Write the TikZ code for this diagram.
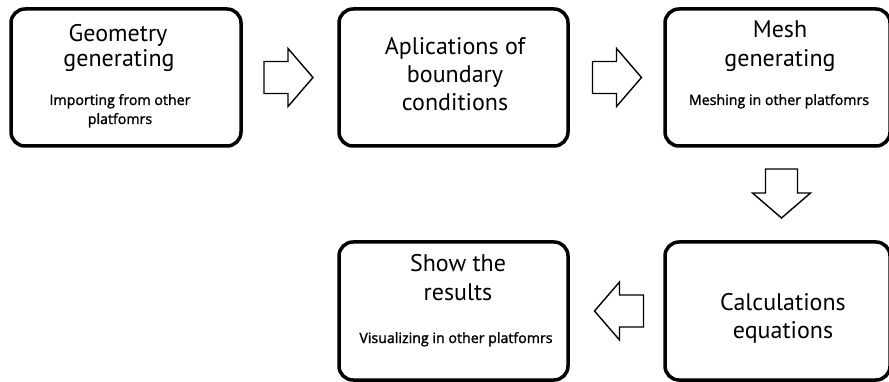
\documentclass[tikz,border=0pt]{standalone}
\usepackage{fontspec}
\setmainfont{PT Sans}
\newfontfamily\notefont[FakeBold=1.5]{Open Sans}
\usetikzlibrary{calc}

\tikzset{
  stagebox/.style={draw=black, line width=3.5pt, rounded corners=14pt, fill=white},
  bigtext/.style={anchor=base, inner sep=0pt, font=\fontsize{24}{28}\selectfont},
  smalltext/.style={anchor=base, inner sep=0pt, font=\notefont\fontsize{14.2}{16}\selectfont},
  blockarrow/.pic={
    \draw[line width=1.4pt, line join=miter, fill=white]
      (-24,-16) -- (0,-16) -- (0,-29) -- (25,0) -- (0,29) -- (0,16) -- (-24,16) -- cycle;
  }
}

\begin{document}
\begin{tikzpicture}[x=1pt, y=-1pt]
  \useasboundingbox (0,0) rectangle (889,382);

  % stage boxes (corner to corner, stroke centres)
  \path[stagebox] (11,9) rectangle (241,146);
  \path[stagebox] (339,9) rectangle (568,146);
  \path[stagebox] (665,9) rectangle (890,146);
  \path[stagebox] (665,242) rectangle (890,380);
  \path[stagebox] (339,242) rectangle (568,380);

  % anchor nodes covering each box
  \node[inner sep=0pt, minimum width=234pt, minimum height=141pt] (geom) at (126,77.5) {};
  \node[inner sep=0pt, minimum width=233pt, minimum height=141pt] (bound) at (453.5,77.5) {};
  \node[inner sep=0pt, minimum width=229pt, minimum height=141pt] (mesh) at (777.5,77.5) {};
  \node[inner sep=0pt, minimum width=229pt, minimum height=142pt] (calc) at (777.5,311) {};
  \node[inner sep=0pt, minimum width=233pt, minimum height=142pt] (show) at (453.5,311) {};

  % texts
  \node[bigtext] (g1) at (118,42) {Geometry};
  \node[bigtext] (g2) at (119,67) {generating};
  \node[smalltext] (g3) at (120,105) {Importing from other};
  \node[smalltext] (g4) at (120,124) {platfomrs};

  \node[bigtext] (b1) at (455,55) {Aplications of};
  \node[bigtext] (b2) at (455,83) {boundary};
  \node[bigtext] (b3) at (455,111) {conditions};

  \node[bigtext] (m1) at (780,38) {Mesh};
  \node[bigtext] (m2) at (780,67) {generating};
  \node[smalltext] (m3) at (779,105) {Meshing in other platfomrs};

  \node[bigtext] (c1) at (783,310) {Calculations};
  \node[bigtext] (c2) at (783,338) {equations};

  \node[bigtext] (s1) at (458,272) {Show the};
  \node[bigtext] (s2) at (458,300) {results};
  \node[smalltext] (s3) at (456,343) {Visualizing in other platfomrs};

  % block arrows between the stages
  \pic (a1) at ($(geom.east)!0.5!(bound.west)+(-2,0)$) {blockarrow};
  \pic (a2) at ($(bound.east)!0.5!(mesh.west)$) {blockarrow};
  \pic[rotate=-90] (a3) at ($(mesh.south)!0.5!(calc.north)+(4,-1)$) {blockarrow};
  \pic[rotate=180] (a4) at ($(show.east)!0.5!(calc.west)+(3,0)$) {blockarrow};
\end{tikzpicture}
\end{document}
